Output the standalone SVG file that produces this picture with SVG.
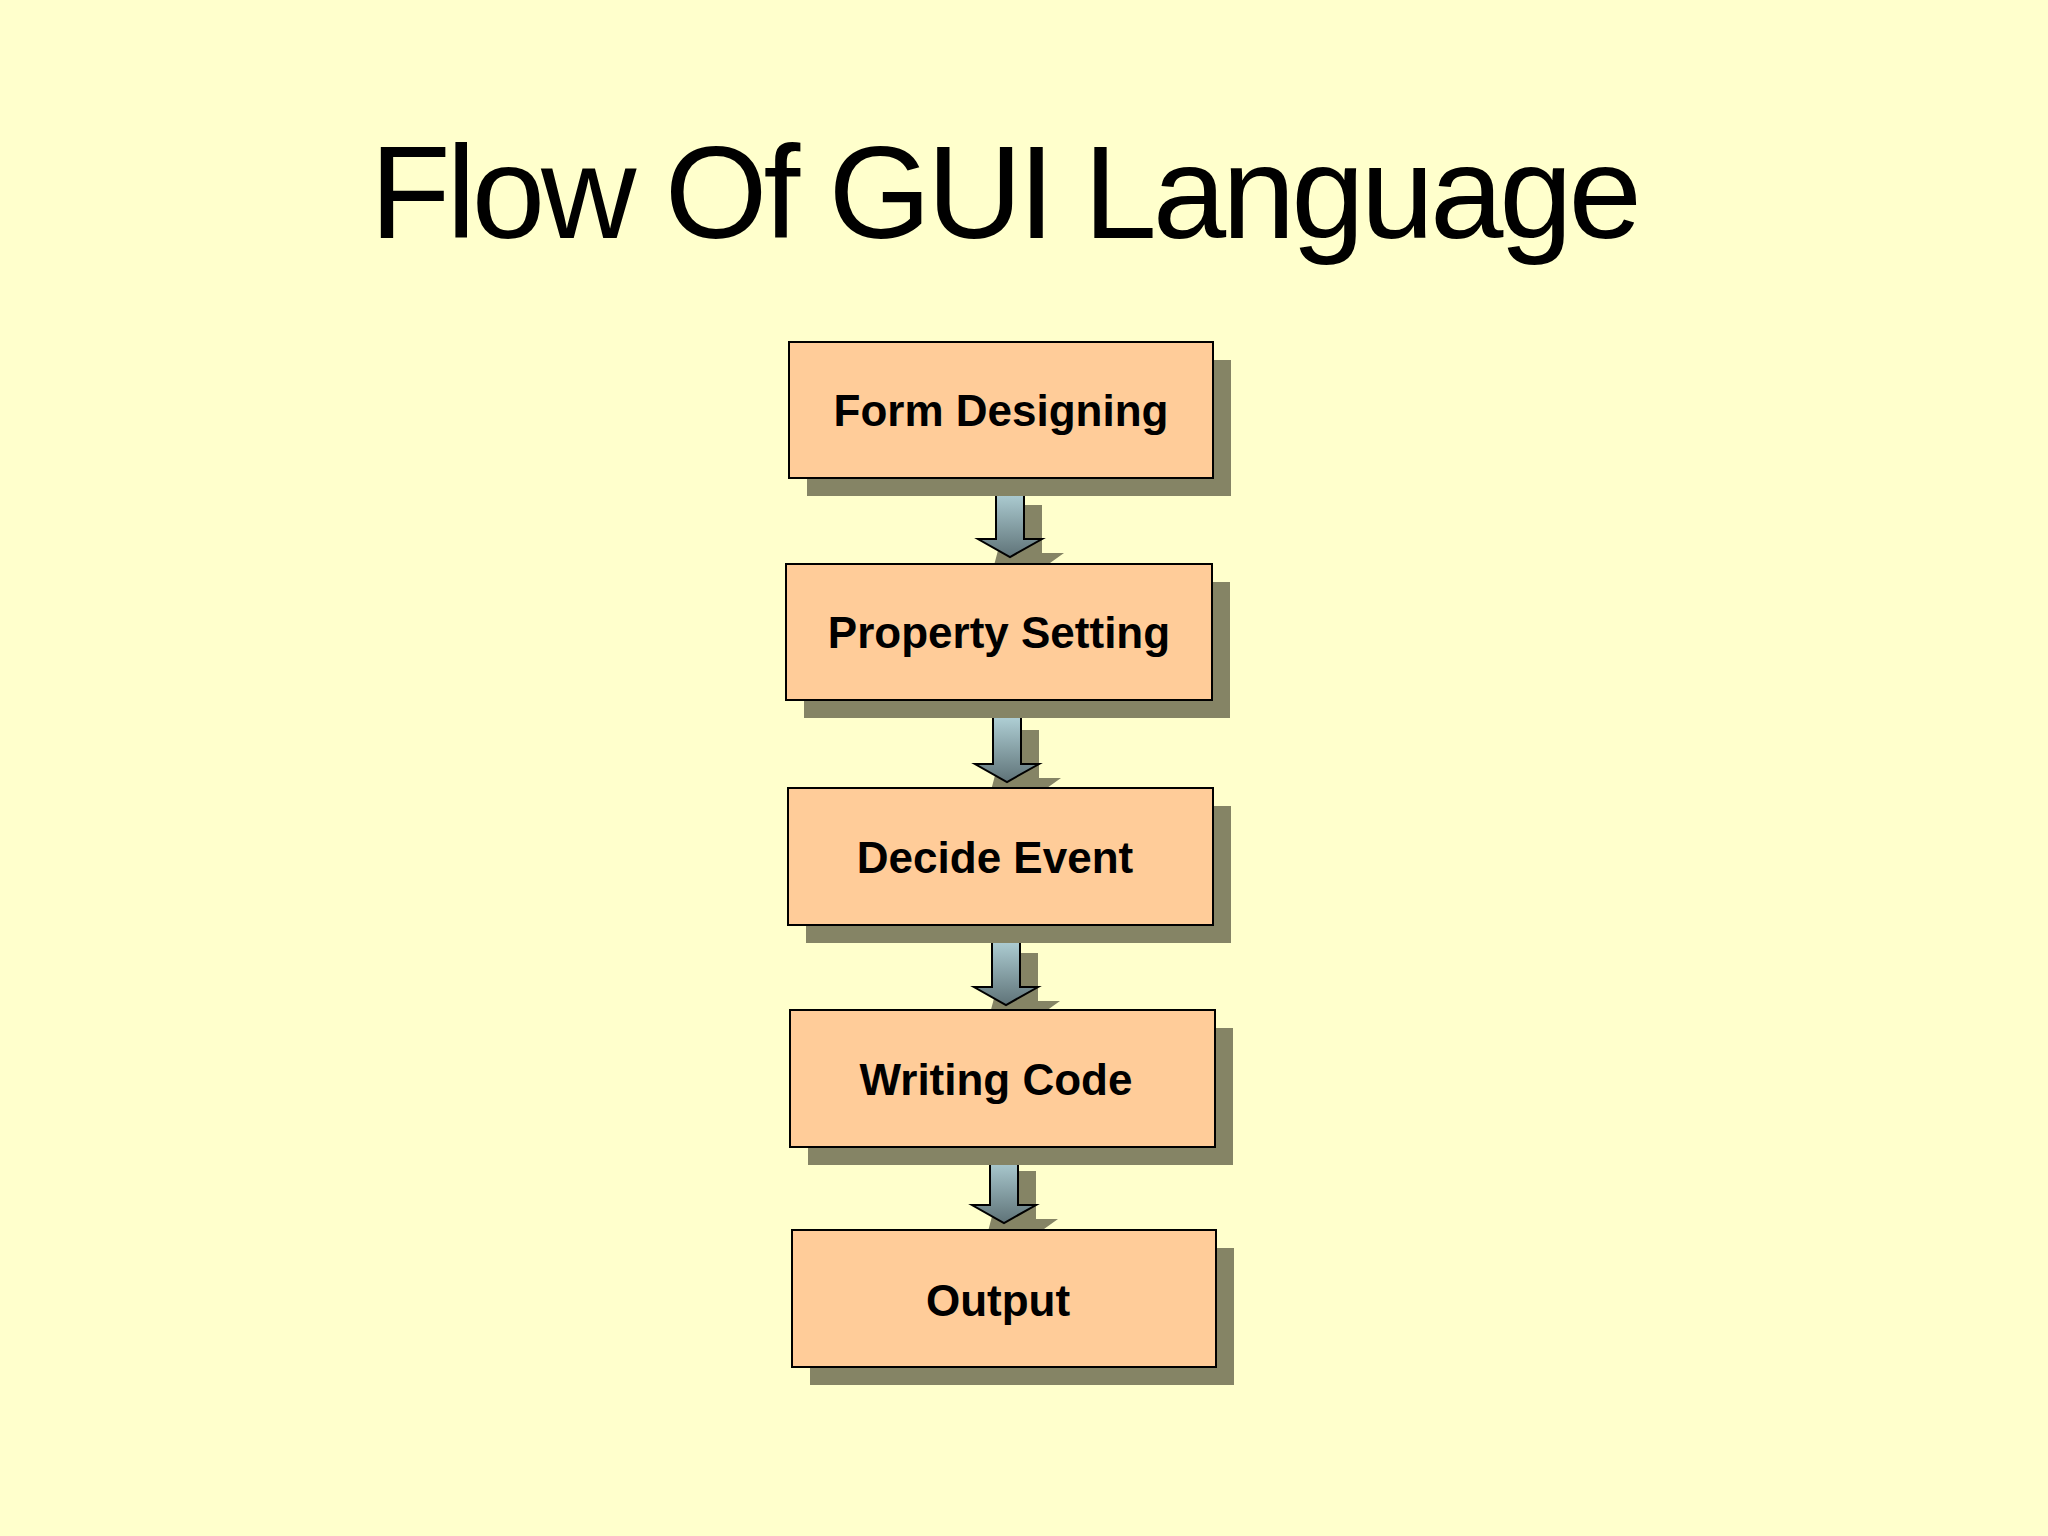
<svg xmlns="http://www.w3.org/2000/svg" width="2048" height="1536" viewBox="0 0 2048 1536">
<defs>
<linearGradient id="ag" x1="0" y1="0" x2="0" y2="1"><stop offset="0" stop-color="#b5d6dc"/><stop offset="1" stop-color="#5f7378"/></linearGradient>
<style>
.sh{fill:#858465}
.bx{fill:#ffcc99;stroke:#000;stroke-width:2}
.t{font-family:"Liberation Sans",Arial,sans-serif;font-weight:bold;font-size:44px;fill:#000;text-anchor:middle}
.ar{fill:url(#ag);stroke:#000;stroke-width:2}
</style>
</defs>
<rect width="2048" height="1536" fill="#ffffcc"/>
<text x="1006" y="238" font-family="Liberation Sans,Arial,sans-serif" font-size="132" text-anchor="middle" textLength="1272" fill="#000">Flow Of GUI Language</text>
<g id="connectors">
<g transform="translate(1010,487)"><path class="sh" d="M0 18h32v48h22l-28 20h-44z" transform="translate(0,0)"/><path class="ar" d="M-14 0h28v52h18l-32 18l-32-18h18z"/></g>
<g transform="translate(1007,712)"><path class="sh" d="M0 18h32v48h22l-28 20h-44z"/><path class="ar" d="M-14 0h28v52h18l-32 18l-32-18h18z"/></g>
<g transform="translate(1006,935)"><path class="sh" d="M0 18h32v48h22l-28 20h-44z"/><path class="ar" d="M-14 0h28v52h18l-32 18l-32-18h18z"/></g>
<g transform="translate(1004,1153)"><path class="sh" d="M0 18h32v48h22l-28 20h-44z"/><path class="ar" d="M-14 0h28v52h18l-32 18l-32-18h18z"/></g>
</g>
<g id="n1"><rect class="sh" x="807" y="360" width="424" height="136"/><rect class="bx" x="789" y="342" width="424" height="136"/><text class="t" x="1001" y="426">Form Designing</text></g>
<g id="n2"><rect class="sh" x="804" y="582" width="426" height="136"/><rect class="bx" x="786" y="564" width="426" height="136"/><text class="t" x="999" y="648">Property Setting</text></g>
<g id="n3"><rect class="sh" x="806" y="806" width="425" height="137"/><rect class="bx" x="788" y="788" width="425" height="137"/><text class="t" x="995" y="873">Decide Event</text></g>
<g id="n4"><rect class="sh" x="808" y="1028" width="425" height="137"/><rect class="bx" x="790" y="1010" width="425" height="137"/><text class="t" x="996" y="1095">Writing Code</text></g>
<g id="n5"><rect class="sh" x="810" y="1248" width="424" height="137"/><rect class="bx" x="792" y="1230" width="424" height="137"/><text class="t" x="998" y="1316">Output</text></g>
</svg>
